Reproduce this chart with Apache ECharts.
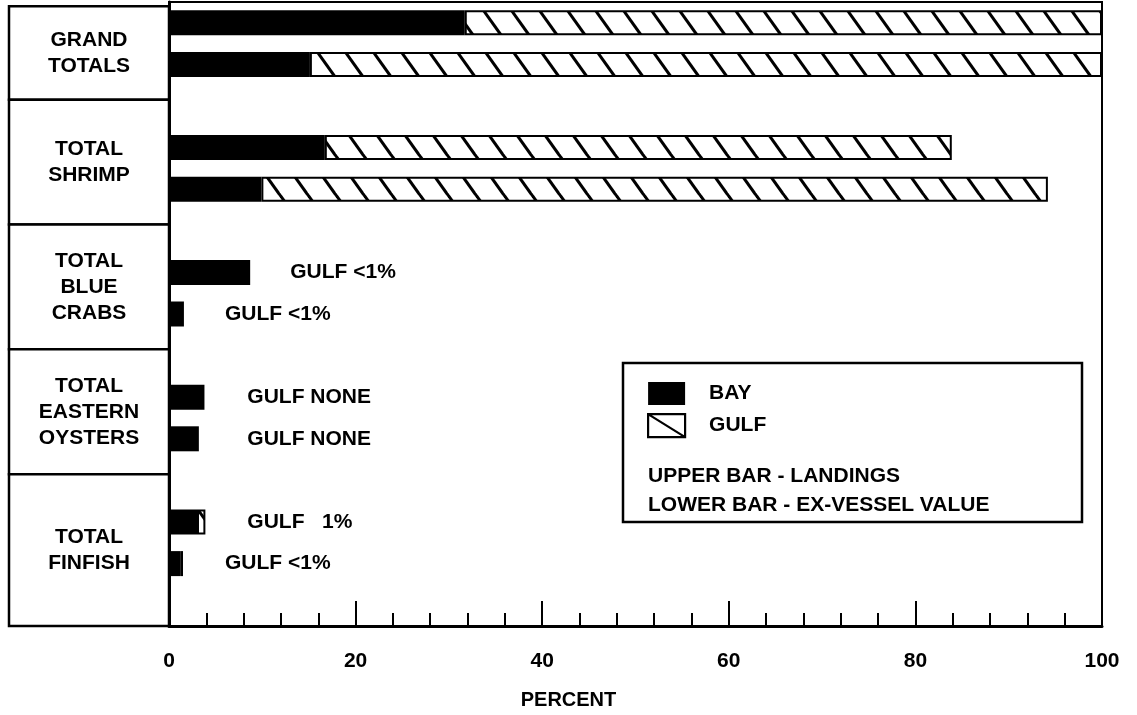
<!DOCTYPE html>
<html>
<head>
<meta charset="utf-8">
<script src="https://cdn.jsdelivr.net/npm/echarts@6/dist/echarts.min.js"></script>
<style>
html,body{margin:0;padding:0;background:#fff;}
#chart{width:1137px;height:715px;}
</style>
</head>
<body>
<div id="chart"></div>
<script>
// ---- data ----
const slots = ['GT_L','GT_V','gap1','SH_L','SH_V','gap2','BC_L','BC_V','gap3','EO_L','EO_V','gap4','FF_L','FF_V','gap5'];
const bayValues  = [31.7, 15.1, null, 16.7, 9.9, null, 8.7, 1.6, null, 3.8, 3.2, null, 3.0, 1.2, null];
const gulfValues = [68.3, 84.9, null, 67.2, 84.3, null, null, null, null, null, null, null, 0.9, 0.3, null];
const groupLabels = ['GRAND\nTOTALS', 'TOTAL\nSHRIMP', 'TOTAL\nBLUE\nCRABS', 'TOTAL\nEASTERN\nOYSTERS', 'TOTAL\nFINFISH'];
const noteText = ['GULF <1%', 'GULF <1%', 'GULF NONE', 'GULF NONE', 'GULF   1%', 'GULF <1%'];
const noteSlot = ['BC_L', 'BC_V', 'EO_L', 'EO_V', 'FF_L', 'FF_V'];
const noteX    = [13.0, 6.0, 8.4, 8.4, 8.4, 6.0];
const xTicks = [0, 20, 40, 60, 80, 100];

// ---- styles ----
const FONT_FAMILY = "'Liberation Sans', Arial, sans-serif";
const FS = 21;
const FONT = 'bold ' + FS + 'px ' + FONT_FAMILY;

// hatch pattern "\" lines
const pat = document.createElement('canvas');
pat.width = 28; pat.height = 39;
(function(){
  const c = pat.getContext('2d');
  c.fillStyle = '#fff'; c.fillRect(0,0,28,39);
  c.strokeStyle = '#000'; c.lineWidth = 3;
  for (const dx of [-28, 0, 28]) {
    c.beginPath();
    c.moveTo(dx - 5, -7);
    c.lineTo(dx + 33, 46.2);
    c.stroke();
  }
})();

const chart = echarts.init(document.getElementById('chart'), null, {renderer: 'canvas'});

const GRID_TOP = 2, GRID_BOTTOM = 89;

const option = {
  backgroundColor: '#fff',
  animation: false,
  textStyle: {fontFamily: FONT_FAMILY},
  grid: [
    {left: 169, right: 35, top: GRID_TOP, bottom: GRID_BOTTOM, show: true, borderColor: '#000', borderWidth: 2, backgroundColor: 'transparent'},
    {left: 9, width: 160, top: GRID_TOP, bottom: GRID_BOTTOM}
  ],
  xAxis: [
    {
      type: 'value', gridIndex: 0, min: 0, max: 100, interval: 20,
      axisLine: {show: true, lineStyle: {color: '#000', width: 3}},
      axisTick: {show: true, inside: true, length: 25, lineStyle: {color: '#000', width: 2}},
      minorTick: {show: true, splitNumber: 5, length: 13, lineStyle: {color: '#000', width: 2}},
      splitLine: {show: false},
      axisLabel: {
        color: '#000', fontFamily: FONT_FAMILY, fontWeight: 'bold', fontSize: FS, margin: 25,
        formatter: function (v) { return xTicks.indexOf(v) >= 0 ? String(v) : ''; }
      },
      name: 'PERCENT', nameLocation: 'middle', nameGap: 64,
      nameTextStyle: {color: '#000', fontFamily: FONT_FAMILY, fontWeight: 'bold', fontSize: FS - 1, padding: [0, 134, 0, 0]}
    },
    {type: 'value', gridIndex: 1, min: 0, max: 1, show: false}
  ],
  yAxis: [
    {
      type: 'category', gridIndex: 0, data: slots, inverse: true,
      axisLine: {show: true, lineStyle: {color: '#000', width: 3}},
      axisTick: {show: false}, axisLabel: {show: false}, splitLine: {show: false}
    },
    {type: 'value', gridIndex: 1, min: 0, max: slots.length, inverse: true, show: false}
  ],
  legend: {
    orient: 'vertical', left: 647, top: 382,
    itemWidth: 37, itemHeight: 23, itemGap: 8, padding: 0,
    selectedMode: false,
    textStyle: {color: '#000', fontFamily: FONT_FAMILY, fontWeight: 'bold', fontSize: FS, padding: [0, 0, 0, 19]},
    data: [
      {name: 'BAY', icon: 'rect', itemStyle: {color: '#000', borderWidth: 0}},
      {name: 'GULF', icon: 'path://M0,0L37,0L37,23L0,23ZM0,0L37,23', itemStyle: {color: '#fff', borderColor: '#000', borderWidth: 2.2}}
    ]
  },
  graphic: [
    {type: 'rect', shape: {x: 623, y: 363, width: 459, height: 159}, style: {fill: 'none', stroke: '#000', lineWidth: 2.5}, z: 1},
    {type: 'text', x: 648, y: 476, style: {text: 'UPPER BAR - LANDINGS', font: FONT, fill: '#000', verticalAlign: 'middle'}},
    {type: 'text', x: 648, y: 505, style: {text: 'LOWER BAR - EX-VESSEL VALUE', font: FONT, fill: '#000', verticalAlign: 'middle'}}
  ],
  series: [
    {
      name: 'BAY', type: 'bar', stack: 'total', xAxisIndex: 0, yAxisIndex: 0,
      barWidth: 25, data: bayValues,
      itemStyle: {color: '#000'}
    },
    {
      name: 'GULF', type: 'bar', stack: 'total', xAxisIndex: 0, yAxisIndex: 0,
      barWidth: 25, data: gulfValues,
      itemStyle: {color: {image: pat, repeat: 'repeat'}, borderColor: '#000', borderWidth: 2}
    },
    {
      name: 'notes', type: 'scatter', xAxisIndex: 0, yAxisIndex: 0,
      symbolSize: 0, silent: true,
      itemStyle: {opacity: 1},
      data: noteText.map((t, i) => ({value: [noteX[i], noteSlot[i]], name: t})),
      label: {
        show: true, position: 'right', distance: 0,
        formatter: p => p.name,
        color: '#000', opacity: 1, fontFamily: FONT_FAMILY, fontWeight: 'bold', fontSize: FS
      }
    },
    {
      name: 'table', type: 'custom', xAxisIndex: 1, yAxisIndex: 1, silent: true,
      data: groupLabels.map((t, i) => [0, i]),
      renderItem: function (params, api) {
        const i = api.value(1);
        const n = groupLabels.length;
        const y0 = i === 0 ? 0.1 : 3 * i - 0.65;
        const y1 = i === n - 1 ? slots.length : 3 * i + 2.35;
        const p0 = api.coord([0, y0]);
        const p1 = api.coord([1, y1]);
        return {
          type: 'group',
          children: [
            {type: 'rect', shape: {x: p0[0], y: p0[1], width: p1[0] - p0[0], height: p1[1] - p0[1]},
             style: {fill: '#fff', stroke: '#000', lineWidth: 2.5}},
            {type: 'text', x: (p0[0] + p1[0]) / 2, y: (p0[1] + p1[1]) / 2,
             style: {text: groupLabels[i], font: FONT, fill: '#000', align: 'center', verticalAlign: 'middle', lineHeight: 26}}
          ]
        };
      }
    }
  ]
};
chart.setOption(option);
</script>
</body>
</html>
